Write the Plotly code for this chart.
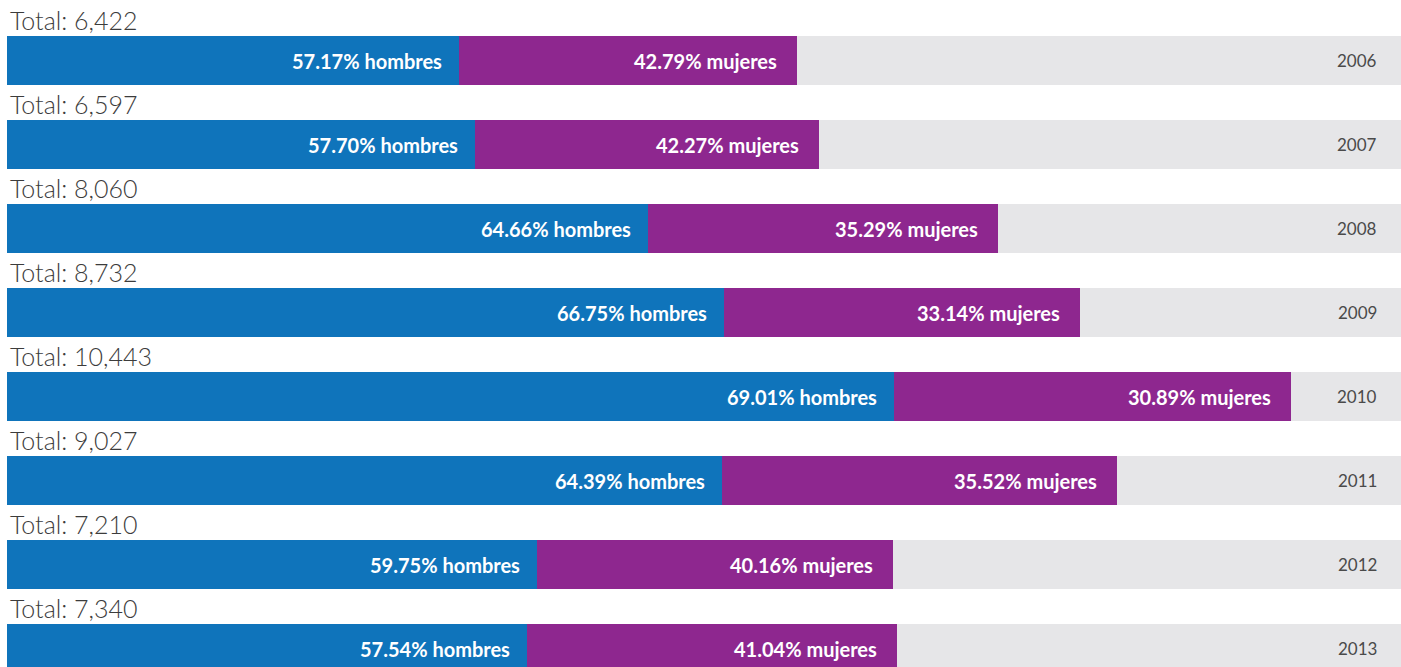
import plotly.graph_objects as go

# data
years = ["2006", "2007", "2008", "2009", "2010", "2011", "2012", "2013"]
totals = [6422, 6597, 8060, 8732, 10443, 9027, 7210, 7340]
pct_hombres = [57.17, 57.70, 64.66, 66.75, 69.01, 64.39, 59.75, 57.54]
pct_mujeres = [42.79, 42.27, 35.29, 33.14, 30.89, 35.52, 40.16, 41.04]

BLUE = "#0f74bb"
PURPLE = "#8e278f"
GRAY_BG = "#e6e6e8"
TEXT = "#3c3c3c"
FONT = "Lato"

rows = list(range(len(years)))
hombres = [t * p / 100 for t, p in zip(totals, pct_hombres)]
mujeres = [t * p / 100 for t, p in zip(totals, pct_mujeres)]

fig = go.Figure()
fig.add_trace(go.Bar(y=rows, x=hombres, orientation="h", marker=dict(color=BLUE, line_width=0),
                     width=0.583, hoverinfo="skip"))
fig.add_trace(go.Bar(y=rows, x=mujeres, orientation="h", marker=dict(color=PURPLE, line_width=0),
                     width=0.583, hoverinfo="skip"))

shapes = []
annotations = []
for i in rows:
    # gray track behind each bar
    shapes.append(dict(type="rect", xref="paper", yref="y", x0=0, x1=1,
                       y0=i - 0.2915, y1=i + 0.2915, fillcolor=GRAY_BG,
                       line_width=0, layer="below"))
    annotations.append(dict(x=0, y=i - 0.482, xref="x", yref="y", text=f"Total: {totals[i]:,}",
                            showarrow=False, xanchor="left", yanchor="middle", xshift=1,
                            font=dict(family=FONT, size=25, color=TEXT, weight=300)))
    annotations.append(dict(x=hombres[i], y=i, xref="x", yref="y",
                            text=f"<b>{pct_hombres[i]:.2f}% hombres</b>",
                            showarrow=False, xanchor="right", yanchor="middle", xshift=-15,
                            font=dict(family=FONT, size=20, color="white")))
    annotations.append(dict(x=hombres[i] + mujeres[i], y=i, xref="x", yref="y",
                            text=f"<b>{pct_mujeres[i]:.2f}% mujeres</b>",
                            showarrow=False, xanchor="right", yanchor="middle", xshift=-18,
                            font=dict(family=FONT, size=20, color="white")))
    annotations.append(dict(x=1, y=i, xref="paper", yref="y", text=years[i],
                            showarrow=False, xanchor="right", yanchor="middle", xshift=-22,
                            font=dict(family=FONT, size=17, color="#4a4a4a")))

fig.update_layout(
    width=1401,
    height=667,
    barmode="stack",
    bargap=0,
    showlegend=False,
    plot_bgcolor="white",
    paper_bgcolor="white",
    margin=dict(l=7, r=0, t=0, b=0),
    xaxis=dict(range=[0, 10443 * 1394 / 1285], visible=False, fixedrange=True),
    yaxis=dict(range=[(667 - 60.5) / 84, -60.5 / 84], visible=False, fixedrange=True),
    shapes=shapes,
    annotations=annotations,
)

# drop the page's default body margin so the figure fills the window
fig.write_html("out.html", config={"displayModeBar": False},
               post_script="document.body.style.margin='0';")
